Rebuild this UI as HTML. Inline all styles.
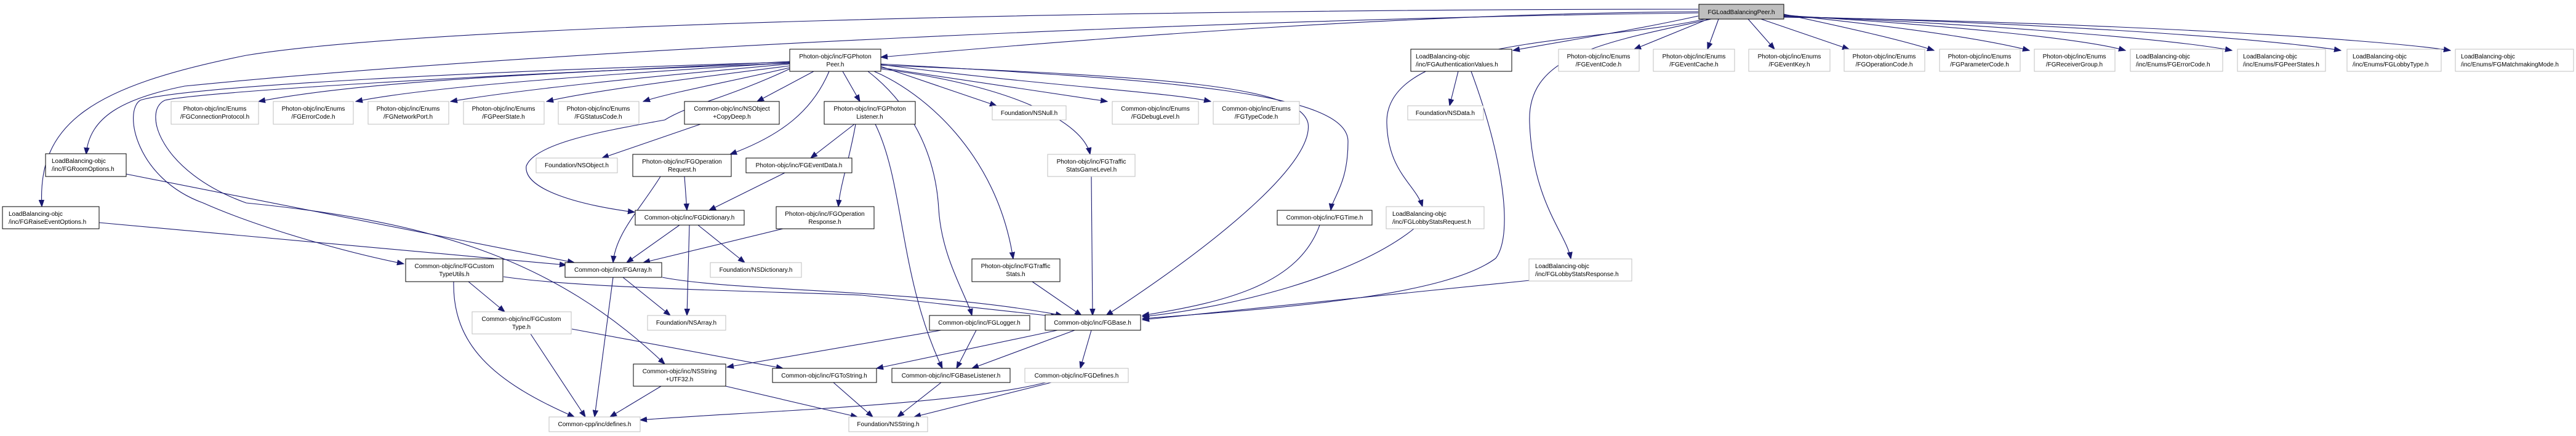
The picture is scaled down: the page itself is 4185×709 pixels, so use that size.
<!DOCTYPE html>
<html><head><meta charset="utf-8"><style>
html,body{margin:0;padding:0;background:#fff;}
svg{display:block;}
text{font-family:"Liberation Sans",Arial,sans-serif;font-size:10px;fill:#000;}
.d{fill:#fff;stroke:#000;stroke-width:1;}
.g{fill:#fff;stroke:#bfbfbf;stroke-width:1;}
.e{fill:none;stroke:#191970;stroke-width:1.1;}
</style></head><body>
<svg width="4185" height="709" viewBox="0 0 4185 709" xmlns="http://www.w3.org/2000/svg">
<defs>
<marker id="a" markerWidth="12" markerHeight="10" refX="11" refY="5" orient="auto" markerUnits="userSpaceOnUse">
<path d="M0,0.8 L11,5 L0,9.2 Z" fill="#191970" stroke="#191970"/>
</marker>
</defs>
<g class="e" marker-end="url(#a)">
<!-- root edges -->
<path d="M2759,19 C2300,22 1800,60 1431,93"/>
<path d="M2759,15 C1800,15 700,40 400,90 C150,140 60,200 68,336"/>
<path d="M2759,21 C2000,30 900,80 300,140 C200,160 145,190 140,251"/>
<path d="M2759,26 C2650,50 2550,65 2458,82"/>
<path d="M2775,31 L2655,80"/>
<path d="M2792,31 L2774,80"/>
<path d="M2840,31 L2883,80"/>
<path d="M2861,31 L3004,80"/>
<path d="M2898,23 C3000,45 3090,65 3142,82"/>
<path d="M2898,24 C3100,45 3230,65 3297,82"/>
<path d="M2898,25 C3150,40 3380,62 3453,82"/>
<path d="M2898,26 C3200,38 3520,62 3626,82"/>
<path d="M2898,27 C3300,36 3680,62 3803,82"/>
<path d="M2898,28 C3400,36 3850,62 3981,82"/>
<path d="M2770,31 C2600,70 2250,60 2253,200 C2255,280 2300,300 2311,336"/>
<path d="M2780,31 C2600,70 2480,90 2485,200 C2490,330 2545,380 2552,421"/>
<!-- auth -->
<path d="M2369,116 L2355,172"/>
<path d="M2390,116 C2440,250 2460,380 2430,420 C2350,480 2100,500 1856,518"/>
<!-- photon peer -->
<path d="M1283,100 C900,120 600,130 420,165"/>
<path d="M1283,102 C1000,120 700,140 578,165"/>
<path d="M1283,104 C1050,125 850,145 732,165"/>
<path d="M1283,107 C1100,130 950,150 888,165"/>
<path d="M1283,110 C1200,130 1090,150 1045,165"/>
<path d="M1322,116 L1230,165"/>
<path d="M1369,116 L1397,165"/>
<path d="M1347,116 C1320,180 1270,220 1186,251"/>
<path d="M1283,112 C1180,160 1120,170 1080,195 C1000,210 870,230 855,270 C850,310 950,335 1031,345"/>
<path d="M1283,101 C800,115 300,140 228,163 C200,180 220,290 330,330 C420,370 560,410 656,429"/>
<path d="M1283,103 C800,120 320,150 268,163 C230,180 260,280 400,330 C700,360 900,420 1080,592"/>
<path d="M1431,108 L1619,172"/>
<path d="M1431,110 L1799,165"/>
<path d="M1431,105 C1700,140 1900,150 1967,165"/>
<path d="M1431,112 C1650,140 1760,200 1771,251"/>
<path d="M1431,104 C1900,130 2190,150 2190,230 C2190,300 2165,320 2162,342"/>
<path d="M1431,106 C1900,125 2110,140 2125,200 C2135,260 2000,380 1797,513"/>
<path d="M1420,116 C1500,150 1620,250 1646,421"/>
<path d="M1410,116 C1480,170 1520,250 1525,340 C1530,420 1570,480 1579,513"/>
<!-- listener -->
<path d="M1422,202 C1470,300 1460,450 1531,599"/>
<path d="M1390,202 C1380,260 1365,300 1362,336"/>
<path d="M1388,202 L1317,257"/>
<!-- misc -->
<path d="M1138,202 L978,257"/>
<path d="M1112,287 L1116,342"/>
<path d="M1073,287 C1040,340 1000,380 996,427"/>
<path d="M1275,281 L1152,342"/>
<path d="M1272,372 L1045,427"/>
<path d="M1104,366 L1018,427"/>
<path d="M1120,366 L1116,513"/>
<path d="M1134,366 L1210,427"/>
<path d="M205,283 L933,427"/>
<path d="M161,362 L920,431"/>
<path d="M1012,451 L1089,513"/>
<path d="M996,451 L966,678"/>
<path d="M1076,451 C1200,475 1500,470 1726,513"/>
<path d="M818,450 C950,470 1300,475 1400,480 L1718,515"/>
<path d="M761,458 L820,507"/>
<path d="M737,458 C735,560 800,620 933,678"/>
<path d="M862,543 L951,678"/>
<path d="M929,535 L1272,599"/>
<path d="M1074,628 L991,678"/>
<path d="M1179,628 L1393,678"/>
<path d="M1354,622 L1418,678"/>
<path d="M1699,622 C1550,660 1200,670 1040,683"/>
<path d="M1708,622 L1485,678"/>
<path d="M1529,622 L1458,678"/>
<path d="M1529,537 L1181,597"/>
<path d="M1718,537 L1424,599"/>
<path d="M1586,537 L1554,599"/>
<path d="M1746,537 L1579,599"/>
<path d="M1773,537 L1755,599"/>
<path d="M1677,458 L1757,513"/>
<path d="M1773,287 L1775,513"/>
<path d="M2144,366 C2110,460 2000,490 1856,513"/>
<path d="M2297,372 C2200,450 2000,500 1856,515"/>
<path d="M2485,456 L1856,520"/>
</g>

<!-- nodes -->
<rect x="2760" y="7" width="138" height="24" fill="#bfbfbf" stroke="#000"/>
<text x="2829" y="23" text-anchor="middle">FGLoadBalancingPeer.h</text>

<rect class="d" x="1283" y="80" width="148" height="36"/>
<text x="1357" y="95" text-anchor="middle">Photon-objc/inc/FGPhoton</text><text x="1357" y="108" text-anchor="middle">Peer.h</text>

<rect class="d" x="2292" y="80" width="164" height="36"/>
<text x="2300" y="95">LoadBalancing-objc</text><text x="2300" y="108">/inc/FGAuthenticationValues.h</text>

<g text-anchor="middle">
<rect class="g" x="2532" y="80" width="131" height="36"/><text x="2597" y="95">Photon-objc/inc/Enums</text><text x="2597" y="108">/FGEventCode.h</text>
<rect class="g" x="2686" y="80" width="132" height="36"/><text x="2752" y="95">Photon-objc/inc/Enums</text><text x="2752" y="108">/FGEventCache.h</text>
<rect class="g" x="2841" y="80" width="132" height="36"/><text x="2907" y="95">Photon-objc/inc/Enums</text><text x="2907" y="108">/FGEventKey.h</text>
<rect class="g" x="2996" y="80" width="131" height="36"/><text x="3061" y="95">Photon-objc/inc/Enums</text><text x="3061" y="108">/FGOperationCode.h</text>
<rect class="g" x="3151" y="80" width="131" height="36"/><text x="3216" y="95">Photon-objc/inc/Enums</text><text x="3216" y="108">/FGParameterCode.h</text>
<rect class="g" x="3305" y="80" width="131" height="36"/><text x="3370" y="95">Photon-objc/inc/Enums</text><text x="3370" y="108">/FGReceiverGroup.h</text>
</g>
<rect class="g" x="3461" y="80" width="150" height="36"/><text x="3470" y="95">LoadBalancing-objc</text><text x="3470" y="108">/inc/Enums/FGErrorCode.h</text>
<rect class="g" x="3635" y="80" width="143" height="36"/><text x="3644" y="95">LoadBalancing-objc</text><text x="3644" y="108">/inc/Enums/FGPeerStates.h</text>
<rect class="g" x="3813" y="80" width="153" height="36"/><text x="3822" y="95">LoadBalancing-objc</text><text x="3822" y="108">/inc/Enums/FGLobbyType.h</text>
<rect class="g" x="3989" y="80" width="192" height="36"/><text x="3998" y="95">LoadBalancing-objc</text><text x="3998" y="108">/inc/Enums/FGMatchmakingMode.h</text>

<g text-anchor="middle">
<rect class="g" x="278" y="165" width="142" height="37"/><text x="349" y="180">Photon-objc/inc/Enums</text><text x="349" y="193">/FGConnectionProtocol.h</text>
<rect class="g" x="444" y="165" width="130" height="37"/><text x="509" y="180">Photon-objc/inc/Enums</text><text x="509" y="193">/FGErrorCode.h</text>
<rect class="g" x="598" y="165" width="131" height="37"/><text x="663" y="180">Photon-objc/inc/Enums</text><text x="663" y="193">/FGNetworkPort.h</text>
<rect class="g" x="753" y="165" width="131" height="37"/><text x="818" y="180">Photon-objc/inc/Enums</text><text x="818" y="193">/FGPeerState.h</text>
<rect class="g" x="907" y="165" width="131" height="37"/><text x="972" y="180">Photon-objc/inc/Enums</text><text x="972" y="193">/FGStatusCode.h</text>
<rect class="d" x="1112" y="165" width="154" height="37"/><text x="1189" y="180">Common-objc/inc/NSObject</text><text x="1189" y="193">+CopyDeep.h</text>
<rect class="d" x="1339" y="165" width="148" height="37"/><text x="1413" y="180">Photon-objc/inc/FGPhoton</text><text x="1413" y="193">Listener.h</text>
<rect class="g" x="1612" y="172" width="120" height="23"/><text x="1672" y="187">Foundation/NSNull.h</text>
<rect class="g" x="1807" y="165" width="140" height="37"/><text x="1877" y="180">Common-objc/inc/Enums</text><text x="1877" y="193">/FGDebugLevel.h</text>
<rect class="g" x="1971" y="165" width="140" height="37"/><text x="2041" y="180">Common-objc/inc/Enums</text><text x="2041" y="193">/FGTypeCode.h</text>
<rect class="g" x="2287" y="172" width="123" height="23"/><text x="2348" y="187">Foundation/NSData.h</text>

<rect class="g" x="871" y="257" width="132" height="24"/><text x="937" y="272">Foundation/NSObject.h</text>
<rect class="d" x="1028" y="251" width="160" height="36"/><text x="1108" y="266">Photon-objc/inc/FGOperation</text><text x="1108" y="279">Request.h</text>
<rect class="d" x="1212" y="257" width="172" height="24"/><text x="1298" y="272">Photon-objc/inc/FGEventData.h</text>
<rect class="g" x="1702" y="251" width="142" height="36"/><text x="1773" y="266">Photon-objc/inc/FGTraffic</text><text x="1773" y="279">StatsGameLevel.h</text>

<rect class="d" x="1032" y="342" width="177" height="24"/><text x="1120" y="357">Common-objc/inc/FGDictionary.h</text>
<rect class="d" x="1261" y="336" width="159" height="36"/><text x="1340" y="351">Photon-objc/inc/FGOperation</text><text x="1340" y="364">Response.h</text>
<rect class="d" x="2075" y="342" width="154" height="24"/><text x="2152" y="357">Common-objc/inc/FGTime.h</text>

<rect class="d" x="659" y="421" width="158" height="37"/><text x="738" y="436">Common-objc/inc/FGCustom</text><text x="738" y="449">TypeUtils.h</text>
<rect class="d" x="918" y="427" width="157" height="24"/><text x="996" y="442">Common-objc/inc/FGArray.h</text>
<rect class="g" x="1154" y="427" width="148" height="24"/><text x="1228" y="442">Foundation/NSDictionary.h</text>
<rect class="d" x="1579" y="421" width="143" height="37"/><text x="1650" y="436">Photon-objc/inc/FGTraffic</text><text x="1650" y="449">Stats.h</text>

<rect class="g" x="767" y="507" width="161" height="36"/><text x="847" y="522">Common-objc/inc/FGCustom</text><text x="847" y="535">Type.h</text>
<rect class="g" x="1052" y="513" width="127" height="24"/><text x="1115" y="528">Foundation/NSArray.h</text>
<rect class="d" x="1510" y="513" width="163" height="24"/><text x="1591" y="528">Common-objc/inc/FGLogger.h</text>
<rect class="d" x="1698" y="512" width="155" height="25"/><text x="1775" y="528">Common-objc/inc/FGBase.h</text>

<rect class="d" x="1029" y="592" width="150" height="36"/><text x="1104" y="607">Common-objc/inc/NSString</text><text x="1104" y="620">+UTF32.h</text>
<rect class="d" x="1255" y="599" width="169" height="23"/><text x="1339" y="614">Common-objc/inc/FGToString.h</text>
<rect class="d" x="1449" y="599" width="192" height="23"/><text x="1545" y="614">Common-objc/inc/FGBaseListener.h</text>
<rect class="g" x="1665" y="599" width="168" height="23"/><text x="1749" y="614">Common-objc/inc/FGDefines.h</text>

<rect class="g" x="892" y="678" width="148" height="24"/><text x="966" y="693">Common-cpp/inc/defines.h</text>
<rect class="g" x="1379" y="678" width="128" height="24"/><text x="1443" y="693">Foundation/NSString.h</text>
</g>

<rect class="d" x="74" y="250" width="131" height="37"/><text x="84" y="265">LoadBalancing-objc</text><text x="84" y="278">/inc/FGRoomOptions.h</text>
<rect class="d" x="4" y="336" width="157" height="36"/><text x="14" y="351">LoadBalancing-objc</text><text x="14" y="364">/inc/FGRaiseEventOptions.h</text>
<rect class="g" x="2252" y="336" width="159" height="36"/><text x="2262" y="351">LoadBalancing-objc</text><text x="2262" y="364">/inc/FGLobbyStatsRequest.h</text>
<rect class="g" x="2484" y="421" width="167" height="36"/><text x="2494" y="436">LoadBalancing-objc</text><text x="2494" y="449">/inc/FGLobbyStatsResponse.h</text>
</svg>
</body></html>
